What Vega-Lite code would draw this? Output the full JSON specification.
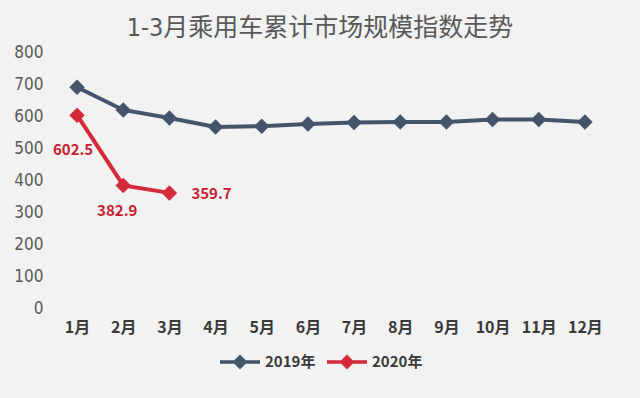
{
  "$schema": "https://vega.github.io/schema/vega-lite/v6.json",
  "width": 554,
  "height": 256,
  "autosize": {"type": "none"},
  "padding": {"left": 54, "top": 52, "right": 32, "bottom": 90},
  "background": "#f2f2f2",
  "config": {"view": {"stroke": null}},
  "title": {
    "text": "1-3月乘用车累计市场规模指数走势",
    "font": "Liberation Sans Narrow, DejaVu Sans Condensed, Noto Sans CJK SC",
    "fontSize": 25,
    "fontWeight": "normal",
    "color": "#595959",
    "anchor": "middle",
    "offset": 2,
    "dx": -11
  },
  "data": {
    "values": [
      {"month": "1月", "year": "2019年", "value": 690},
      {"month": "2月", "year": "2019年", "value": 619},
      {"month": "3月", "year": "2019年", "value": 594},
      {"month": "4月", "year": "2019年", "value": 566},
      {"month": "5月", "year": "2019年", "value": 568},
      {"month": "6月", "year": "2019年", "value": 575},
      {"month": "7月", "year": "2019年", "value": 580},
      {"month": "8月", "year": "2019年", "value": 581},
      {"month": "9月", "year": "2019年", "value": 581},
      {"month": "10月", "year": "2019年", "value": 589},
      {"month": "11月", "year": "2019年", "value": 589},
      {"month": "12月", "year": "2019年", "value": 581},
      {"month": "1月", "year": "2020年", "value": 602.5},
      {"month": "2月", "year": "2020年", "value": 382.9},
      {"month": "3月", "year": "2020年", "value": 359.7}
    ]
  },
  "encoding": {
    "x": {
      "field": "month",
      "type": "ordinal",
      "sort": ["1月","2月","3月","4月","5月","6月","7月","8月","9月","10月","11月","12月"],
      "axis": {
        "title": null,
        "labelAngle": 0,
        "domain": false,
        "ticks": false,
        "labelPadding": 11,
        "labelFont": "Noto Sans CJK SC",
        "labelFontWeight": "bold",
        "labelFontSize": 16,
        "labelColor": "#3a3a3a"
      }
    },
    "y": {
      "field": "value",
      "type": "quantitative",
      "scale": {"domain": [0, 800], "nice": false},
      "axis": {
        "title": null,
        "values": [0,100,200,300,400,500,600,700,800],
        "grid": false,
        "domain": false,
        "ticks": false,
        "labelPadding": 11,
        "labelFont": "Liberation Sans Narrow, DejaVu Sans Condensed",
        "labelFontSize": 17,
        "labelColor": "#595959"
      }
    }
  },
  "layer": [
    {
      "mark": {"type": "line", "strokeWidth": 4, "point": {"shape": "diamond", "size": 240, "filled": true, "opacity": 1}},
      "encoding": {
        "color": {
          "field": "year",
          "type": "nominal",
          "scale": {"domain": ["2019年", "2020年"], "range": ["#44546a", "#d42a3a"]},
          "legend": {
            "title": null,
            "orient": "none",
            "legendX": 164,
            "legendY": 288,
            "direction": "horizontal",
            "symbolType": "M-1,0H1M0,-0.25L0.25,0L0,0.25L-0.25,0Z",
            "symbolSize": 1600,
            "symbolStrokeWidth": 3.5,
            "labelFont": "Noto Sans CJK SC",
            "labelFontWeight": "bold",
            "labelFontSize": 15,
            "labelColor": "#3a3a3a",
            "labelOffset": 3,
            "columnPadding": 4,
            "encode": {"symbols": {"update": {"fill": {"scale": "color", "field": "value"}}}}
          }
        }
      }
    },
    {
      "transform": [{"filter": "datum.year === '2020年' && datum.month === '1月'"}],
      "mark": {"type": "text", "dx": -4, "dy": 35, "font": "Noto Sans CJK SC", "fontWeight": "bold", "fontSize": 15, "color": "#c8202f"},
      "encoding": {"text": {"field": "value", "type": "quantitative", "format": ".1f"}}
    },
    {
      "transform": [{"filter": "datum.year === '2020年' && datum.month === '2月'"}],
      "mark": {"type": "text", "dx": -6, "dy": 26, "font": "Noto Sans CJK SC", "fontWeight": "bold", "fontSize": 15, "color": "#c8202f"},
      "encoding": {"text": {"field": "value", "type": "quantitative", "format": ".1f"}}
    },
    {
      "transform": [{"filter": "datum.year === '2020年' && datum.month === '3月'"}],
      "mark": {"type": "text", "align": "left", "dx": 22, "dy": 1, "font": "Noto Sans CJK SC", "fontWeight": "bold", "fontSize": 15, "color": "#c8202f"},
      "encoding": {"text": {"field": "value", "type": "quantitative", "format": ".1f"}}
    }
  ]
}
